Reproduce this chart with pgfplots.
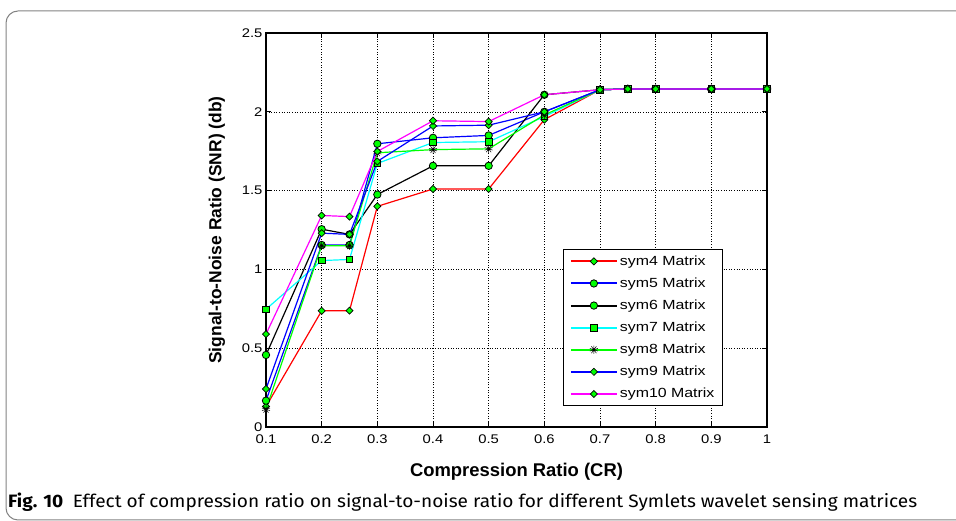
\documentclass[border=0pt]{standalone}
\usepackage{pgfplots}
\usepackage{pgfplotstable}
\pgfplotsset{compat=1.18}
\usepackage{fontspec}
\setmainfont{Liberation Sans}
\newfontfamily\tickfont[FakeStretch=1.18]{Liberation Sans}
\newfontfamily\legfont[FakeStretch=1.2]{Liberation Sans}
\newfontfamily\capfont{Fira Sans}
\usetikzlibrary{plotmarks}

\definecolor{mred}{RGB}{255,0,0}
\definecolor{mblue}{RGB}{0,0,255}
\definecolor{mcyan}{RGB}{0,255,255}
\definecolor{mgreen}{RGB}{0,255,0}
\definecolor{mmag}{RGB}{255,0,255}
\definecolor{framegray}{RGB}{130,130,130}

\pgfplotstableread{
x     s4    s5    s6    s7    s8    s9    s10
0.1   0.13  0.167 0.457 0.747 0.112 0.241 0.589
0.2   0.737 1.155 1.255 1.056 1.150 1.230 1.342
0.25  0.738 1.155 1.222 1.063 1.150 1.222 1.335
0.3   1.400 1.797 1.475 1.672 1.740 1.685 1.748
0.4   1.510 1.835 1.657 1.805 1.760 1.910 1.943
0.5   1.510 1.850 1.657 1.810 1.765 1.915 1.938
0.6   1.950 2.000 2.108 1.970 1.980 2.000 2.108
0.7   2.140 2.140 2.140 2.140 2.140 2.140 2.140
0.75  2.145 2.145 2.145 2.145 2.145 2.145 2.145
0.8   2.145 2.145 2.145 2.145 2.145 2.145 2.145
0.9   2.145 2.145 2.145 2.145 2.145 2.145 2.145
1.0   2.145 2.145 2.145 2.145 2.145 2.145 2.145
}\snrdata

\newsavebox\capbox
\sbox\capbox{\capfont\fontsize{18}{21}\selectfont\textbf{Fig. 10}\hspace{0.5em}Effect of compression ratio on signal-to-noise ratio for different Symlets wavelet sensing matrices}

\begin{document}
\begin{tikzpicture}[x=1bp,y=1bp]
\path[use as bounding box] (0,0) rectangle (956,521);
\draw[framegray, line width=1bp, rounded corners=12bp] (990,510) -- (6,510) -- (6,1) -- (990,1);
\pgfmathsetmacro\capscale{909bp/\the\wd\capbox}
\node[anchor=base west, inner sep=0pt] at (8,13) {\scalebox{\capscale}[1]{\usebox\capbox}};
\begin{axis}[
  at={(266bp,94bp)}, anchor=south west,
  scale only axis, width=501bp, height=394bp,
  xmin=0.1, xmax=1, ymin=0, ymax=2.5,
  xtick={0.1,0.2,0.3,0.4,0.5,0.6,0.7,0.8,0.9,1},
  ytick={0,0.5,1,1.5,2,2.5},
  grid=major,
  grid style={black, line width=0.5bp, dash pattern=on 1bp off 1.6bp},
  axis line style={black, line width=1.3bp},
  tick align=inside, major tick length=5bp,
  tick style={black, line width=0.8bp},
  /pgf/number format/assume math mode=true,
  ticklabel style={font=\tickfont\fontsize{12.6}{14}\selectfont},
  xticklabel style={yshift=-4bp},
  xlabel={Compression Ratio (CR)},
  xlabel style={font=\bfseries\fontsize{18.5}{20}\selectfont, at={(axis description cs:0.5,-0.1244)}, anchor=base},
  ylabel={Signal-to-Noise Ratio (SNR) (db)},
  ylabel style={font=\bfseries\fontsize{17.5}{19}\selectfont, at={(axis description cs:-0.0978,0.5)}, anchor=center},
  legend style={at={(0.912,0.0533)}, anchor=south east, draw=black, line width=1bp,
    font=\legfont\fontsize{13.3}{13.3}\selectfont, inner xsep=6bp, inner ysep=4bp, row sep=7bp,
    nodes={inner sep=2bp}},
  legend cell align=left,
  legend image code/.code={\draw[line width=2bp, mark repeat=2,mark phase=2] plot coordinates {(0bp,0bp)(23bp,0bp)(46bp,0bp)};},
  dmark/.style={mark=square*, mark size=2.5bp, mark options={rotate=45, fill=mgreen, draw=black, line width=0.7bp, solid}},
  cmark/.style={mark=*, mark size=3.7bp, mark options={fill=mgreen, draw=black, line width=0.8bp, solid}},
  smark/.style={mark=square*, mark size=3.3bp, mark options={fill=mgreen, draw=black, line width=0.8bp, solid}},
  pmark/.style={mark=10-pointed star, mark size=4.2bp, mark options={fill=mgreen, draw=black, line width=0.5bp, solid}},
]
\addplot[mred, line width=1.2bp, dmark] table[x=x, y=s4] {\snrdata};
\addlegendentry{sym4 Matrix}
\addplot[mblue, line width=1.2bp, cmark] table[x=x, y=s5] {\snrdata};
\addlegendentry{sym5 Matrix}
\addplot[black, line width=1.2bp, cmark] table[x=x, y=s6] {\snrdata};
\addlegendentry{sym6 Matrix}
\addplot[mcyan, line width=1.2bp, smark] table[x=x, y=s7] {\snrdata};
\addlegendentry{sym7 Matrix}
\addplot[mgreen, line width=1.2bp, pmark] table[x=x, y=s8] {\snrdata};
\addlegendentry{sym8 Matrix}
\addplot[mblue, line width=1.2bp, dmark] table[x=x, y=s9] {\snrdata};
\addlegendentry{sym9 Matrix}
\addplot[mmag, line width=1.2bp, dmark] table[x=x, y=s10] {\snrdata};
\addlegendentry{sym10 Matrix}
\end{axis}
\end{tikzpicture}
\end{document}
